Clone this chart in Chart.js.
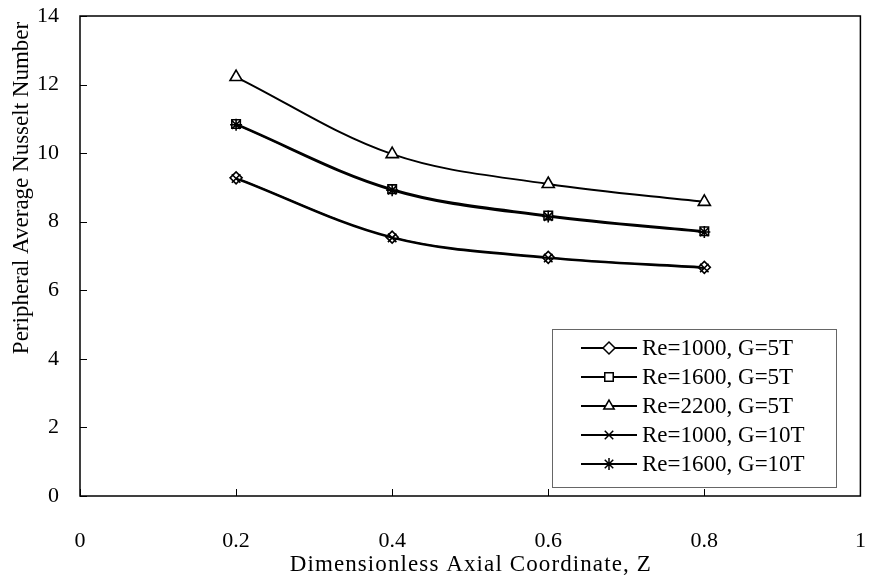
<!DOCTYPE html>
<html>
<head>
<meta charset="utf-8">
<script src="https://cdn.jsdelivr.net/npm/chart.js@4.4.1/dist/chart.umd.min.js"></script>
<style>
  html, body { margin: 0; padding: 0; background: #fff; }
  #wrap { width: 869px; height: 584px; }
</style>
</head>
<body>
<div id="wrap"><canvas id="nusseltChart" width="869" height="584"></canvas></div>
<script>
// axial positions and Nusselt numbers per case
var zValues = [0.2, 0.4, 0.6, 0.8];
var seriesNames = ['Re=1000, G=5T', 'Re=1600, G=5T', 'Re=2200, G=5T', 'Re=1000, G=10T', 'Re=1600, G=10T'];
var re1000g5 = [9.28, 7.55, 6.96, 6.67];
var re1600g5 = [10.85, 8.95, 8.18, 7.72];
var re2200g5 = [12.22, 9.97, 9.10, 8.58];
var re1000g10 = [9.26, 7.53, 6.94, 6.65];
var re1600g10 = [10.83, 8.92, 8.15, 7.70];
var markers = ['rectRot', 'rect', 'triangle', 'crossRot', 'star'];
var xTicks = [0, 0.2, 0.4, 0.6, 0.8, 1];
var yTicks = [0, 2, 4, 6, 8, 10, 12, 14];
var xTitle = 'Dimensionless Axial Coordinate, Z';
var yTitle = 'Peripheral Average Nusselt Number';

var allSeries = [re1000g5, re1600g5, re2200g5, re1000g10, re1600g10];
var serif = "'Liberation Serif', 'Times New Roman', serif";

function toPoints(vals) {
    return vals.map(function (v, i) { return { x: zValues[i], y: v }; });
}

var datasets = allSeries.map(function (vals, i) {
    return {
        label: seriesNames[i],
        data: toPoints(vals),
        borderColor: '#000',
        borderWidth: 2,
        backgroundColor: '#fff',
        pointStyle: markers[i],
        pointRadius: i === 2 ? 7 : 6,
        pointBorderColor: '#000',
        pointBackgroundColor: '#fff',
        pointBorderWidth: 1.6,
        tension: 0.35,
        fill: false,
        order: 5 - i
    };
});

// text drawn one glyph at a time with a little extra tracking
function spacedText(ctx, text, cx, cy, gap) {
    var total = 0;
    for (var i = 0; i < text.length; i++) total += ctx.measureText(text[i]).width + gap;
    total -= gap;
    var x = cx - total / 2;
    ctx.textAlign = 'left';
    for (var j = 0; j < text.length; j++) {
        ctx.fillText(text[j], x, cy);
        x += ctx.measureText(text[j]).width + gap;
    }
}

// frame around the plot area, inward tick marks and the axis titles
var framePlugin = {
    id: 'frame',
    afterDraw: function (chart) {
        var ctx = chart.ctx, a = chart.chartArea;
        var xs = chart.scales.x, ys = chart.scales.y;
        ctx.save();
        ctx.strokeStyle = '#000';
        ctx.lineWidth = 1.5;
        ctx.strokeRect(a.left, a.top, a.right - a.left, a.bottom - a.top);
        ctx.lineWidth = 1;
        ctx.beginPath();
        yTicks.forEach(function (t) {
            var y = Math.round(ys.getPixelForValue(t)) + 0.5;
            ctx.moveTo(a.left, y);
            ctx.lineTo(a.left + 7, y);
        });
        xTicks.forEach(function (t) {
            var x = Math.round(xs.getPixelForValue(t)) + 0.5;
            ctx.moveTo(x, a.bottom);
            ctx.lineTo(x, a.bottom - 7);
        });
        ctx.stroke();

        ctx.fillStyle = '#000';
        ctx.textBaseline = 'middle';
        ctx.font = '23px ' + serif;
        spacedText(ctx, xTitle, (a.left + a.right) / 2, 565, 1.1);
        ctx.textAlign = 'center';
        ctx.translate(22, 188);
        ctx.rotate(-Math.PI / 2);
        ctx.fillText(yTitle, 0, 0);
        ctx.restore();
    }
};

// boxed legend sitting in the lower right of the plot
var legendBox = {
    id: 'legendBox',
    afterDraw: function (chart) {
        var ctx = chart.ctx;
        var left = 552, top = 329, right = 836, bottom = 487;
        ctx.save();
        ctx.fillStyle = '#fff';
        ctx.fillRect(left, top, right - left, bottom - top);
        ctx.strokeStyle = '#666';
        ctx.lineWidth = 1;
        ctx.strokeRect(left + 0.5, top + 0.5, right - left, bottom - top);
        ctx.font = '23px ' + serif;
        ctx.textBaseline = 'middle';
        ctx.textAlign = 'left';
        chart.data.datasets.forEach(function (ds, i) {
            var y = 348 + i * 29;
            ctx.strokeStyle = '#000';
            ctx.lineWidth = 2;
            ctx.beginPath();
            ctx.moveTo(581, y);
            ctx.lineTo(637, y);
            ctx.stroke();
            ctx.fillStyle = '#fff';
            ctx.lineWidth = 1.5;
            Chart.helpers.drawPoint(ctx, {
                pointStyle: ds.pointStyle,
                radius: 6,
                rotation: 0,
                borderWidth: 1.5
            }, 609, y);
            ctx.fillStyle = '#000';
            ctx.fillText(ds.label, 642, y + 1);
        });
        ctx.restore();
    }
};

var ctx = document.getElementById('nusseltChart').getContext('2d');
var nusseltChart = new Chart(ctx, {
    type: 'line',
    data: { datasets: datasets },
    options: {
        responsive: false,
        animation: false,
        layout: { padding: { top: 16, right: 8, left: 0, bottom: 0 } },
        plugins: {
            legend: { display: false },
            tooltip: { enabled: false }
        },
        scales: {
            x: {
                type: 'linear',
                min: 0,
                max: 1,
                afterBuildTicks: function (scale) {
                    scale.ticks = xTicks.map(function (v) { return { value: v }; });
                },
                afterFit: function (scale) {
                    scale.height = 88;
                    scale.paddingLeft = 0;
                    scale.paddingRight = 0;
                },
                grid: { display: true, drawOnChartArea: false, drawTicks: false },
                border: { display: false },
                ticks: {
                    color: '#000',
                    padding: 32,
                    maxRotation: 0,
                    font: { family: serif, size: 22 },
                    callback: function (v) { return String(v); }
                }
            },
            y: {
                type: 'linear',
                min: 0,
                max: 14,
                afterBuildTicks: function (scale) {
                    scale.ticks = yTicks.map(function (v) { return { value: v }; });
                },
                afterFit: function (scale) {
                    scale.width = 80;
                    scale.paddingTop = 0;
                    scale.paddingBottom = 0;
                },
                grid: { display: true, drawOnChartArea: false, drawTicks: false },
                border: { display: false },
                ticks: {
                    color: '#000',
                    padding: 21,
                    font: { family: serif, size: 22 }
                }
            }
        }
    },
    plugins: [framePlugin, legendBox]
});
</script>
</body>
</html>
